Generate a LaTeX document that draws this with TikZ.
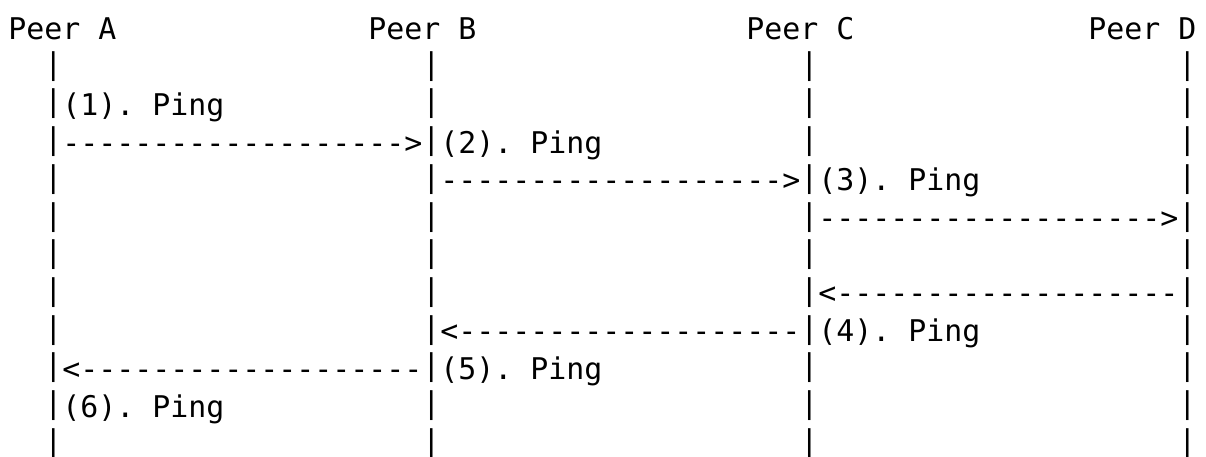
\documentclass[tikz,border=0pt]{standalone}
\usepackage{fontspec}
\setmonofont{DejaVu Sans Mono}
\newcommand{\cw}{18}      % character width (pt)
\newcommand{\lx}{8.3}     % left margin (pt)
\newcommand{\ly}{40}      % first baseline (pt)
\newcommand{\lh}{37.7}    % line pitch (pt)
\newcommand{\vb}{\raisebox{3.5pt}{|}}
\tikzset{
  txt/.style={anchor=base west, inner sep=0pt, outer sep=0pt,
    font=\ttfamily\fontsize{29.9pt}{37.7pt}\selectfont, text=black}
}
\newcommand{\seg}[4]{\node[txt] (#1) at ({\lx+#2*\cw pt},{-(\ly+#3*\lh)*1pt}) {#4};}
\begin{document}
\begin{tikzpicture}[x=1pt,y=1pt]
\useasboundingbox (0,0) rectangle (1206,-457);
% row 0: titles
\seg{pa}{0}{0}{Peer A}
\seg{pb}{20}{0}{Peer B}
\seg{pc}{41}{0}{Peer C}
\seg{pd}{60}{0}{Peer D}
% row 1
\seg{a1}{2}{1}{\vb}\seg{b1}{23}{1}{\vb}\seg{c1}{44}{1}{\vb}\seg{d1}{65}{1}{\vb}
% row 2
\seg{a2}{2}{2}{\vb(1). Ping}\seg{b2}{23}{2}{\vb}\seg{c2}{44}{2}{\vb}\seg{d2}{65}{2}{\vb}
% row 3
\seg{a3}{2}{3}{\vb------------------->\vb(2). Ping}\seg{c3}{44}{3}{\vb}\seg{d3}{65}{3}{\vb}
% row 4
\seg{a4}{2}{4}{\vb}\seg{b4}{23}{4}{\vb------------------->\vb(3). Ping}\seg{d4}{65}{4}{\vb}
% row 5
\seg{a5}{2}{5}{\vb}\seg{b5}{23}{5}{\vb}\seg{c5}{44}{5}{\vb------------------->\vb}
% row 6
\seg{a6}{2}{6}{\vb}\seg{b6}{23}{6}{\vb}\seg{c6}{44}{6}{\vb}\seg{d6}{65}{6}{\vb}
% row 7
\seg{a7}{2}{7}{\vb}\seg{b7}{23}{7}{\vb}\seg{c7}{44}{7}{\vb<-------------------\vb}
% row 8
\seg{a8}{2}{8}{\vb}\seg{b8}{23}{8}{\vb<-------------------\vb(4). Ping}\seg{d8}{65}{8}{\vb}
% row 9
\seg{a9}{2}{9}{\vb<-------------------\vb(5). Ping}\seg{c9}{44}{9}{\vb}\seg{d9}{65}{9}{\vb}
% row 10
\seg{a10}{2}{10}{\vb(6). Ping}\seg{b10}{23}{10}{\vb}\seg{c10}{44}{10}{\vb}\seg{d10}{65}{10}{\vb}
% row 11
\seg{a11}{2}{11}{\vb}\seg{b11}{23}{11}{\vb}\seg{c11}{44}{11}{\vb}\seg{d11}{65}{11}{\vb}
\end{tikzpicture}
\end{document}
